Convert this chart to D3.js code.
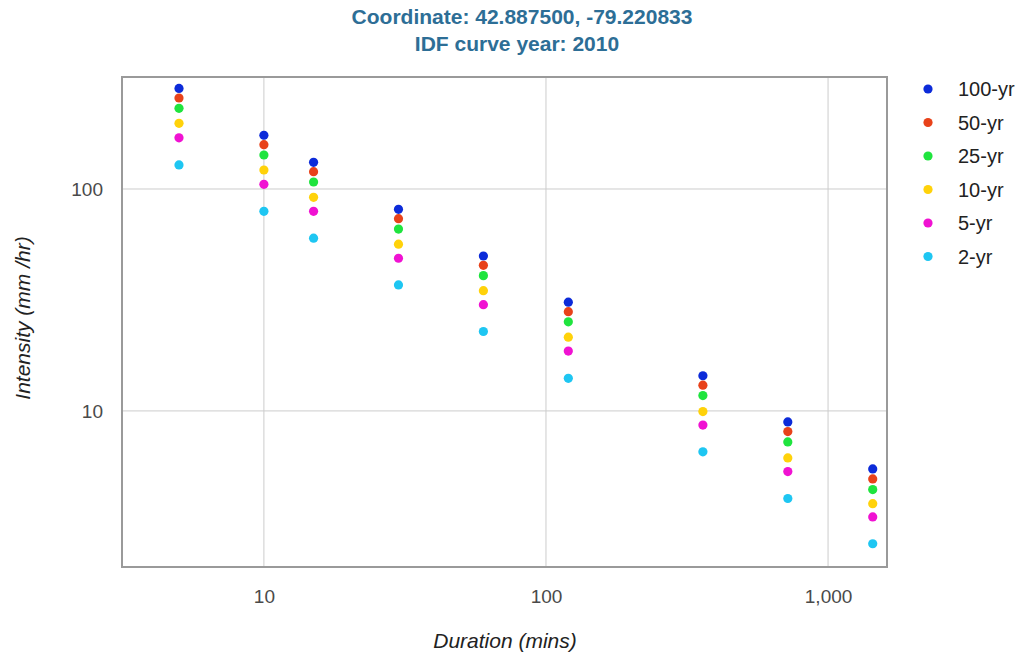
<!DOCTYPE html>
<html>
<head>
<meta charset="utf-8">
<script src="https://cdn.jsdelivr.net/npm/d3@7"></script>
<style>
  body { margin: 0; background: #fff; }
  text { font-family: "Liberation Sans", Arial, sans-serif; }
</style>
</head>
<body>
<div id="chart"></div>
<script>
// durations in minutes
const durations = [5, 10, 15, 30, 60, 120, 360, 720, 1440];

// return periods, legend order
const periods = ["100-yr", "50-yr", "25-yr", "10-yr", "5-yr", "2-yr"];
const colors = ["#0c2bd9", "#e8421a", "#1fe43e", "#ffd20a", "#f012d2", "#1ec6f2"];

// intensity (mm/hr) for each period
const yr100 = [284, 174.6, 131.9, 81.0, 49.9, 30.9, 14.4, 8.92, 5.48];
const yr50  = [257, 158.3, 119.7, 73.5, 45.3, 28.0, 13.06, 8.07, 4.94];
const yr25  = [231, 142.3, 107.5, 66.0, 40.7, 25.2, 11.72, 7.25, 4.42];
const yr10  = [197.6, 121.8, 91.7, 56.4, 34.8, 21.5, 9.93, 6.14, 3.82];
const yr5   = [170, 105, 79.3, 48.75, 30.1, 18.6, 8.63, 5.33, 3.33];
const yr2   = [128.3, 79.3, 60.0, 36.95, 22.8, 14.03, 6.54, 4.03, 2.52];

const seriesValues = [yr100, yr50, yr25, yr10, yr5, yr2];

const xTicks = [10, 100, 1000];
const yTicks = [10, 100];

const W = 1030, H = 654;
const margin = { top: 77, right: 143, bottom: 87, left: 122 };
const width = W - margin.left - margin.right,
      height = H - margin.top - margin.bottom;

const svg = d3.select("#chart").append("svg")
    .attr("width", W)
    .attr("height", H);

// Title
svg.append("text")
    .attr("x", 522).attr("y", 24)
    .attr("text-anchor", "middle")
    .attr("font-size", "21px").attr("font-weight", "bold")
    .attr("fill", "#2d6e96")
    .text("Coordinate: 42.887500, -79.220833");
svg.append("text")
    .attr("x", 517).attr("y", 51)
    .attr("text-anchor", "middle")
    .attr("font-size", "21px").attr("font-weight", "bold")
    .attr("fill", "#2d6e96")
    .text("IDF curve year: 2010");

const g = svg.append("g")
    .attr("transform", `translate(${margin.left},${margin.top})`);

const xScale = d3.scaleLog().domain([3.14, 1618]).range([0, width]);
const yScale = d3.scaleLog().domain([1.98, 319.6]).range([height, 0]);

// grid lines
g.append("g").selectAll("line")
    .data(xTicks).join("line")
    .attr("x1", d => xScale(d)).attr("x2", d => xScale(d))
    .attr("y1", 0).attr("y2", height)
    .attr("stroke", "#cccccc").attr("stroke-width", 1);

g.append("g").selectAll("line")
    .data(yTicks).join("line")
    .attr("x1", 0).attr("x2", width)
    .attr("y1", d => yScale(d)).attr("y2", d => yScale(d))
    .attr("stroke", "#cccccc").attr("stroke-width", 1);

// axes (labels only)
const xAxis = d3.axisBottom(xScale).tickValues(xTicks).tickFormat(d3.format(",")).tickSize(0).tickPadding(23);
const yAxis = d3.axisLeft(yScale).tickValues(yTicks).tickFormat(d3.format(",")).tickSize(0).tickPadding(19);

const gx = g.append("g").attr("transform", `translate(0,${height})`).call(xAxis);
const gy = g.append("g").call(yAxis);
[gx, gy].forEach(a => {
    a.select(".domain").remove();
    a.selectAll("text")
        .attr("font-family", "'Liberation Sans', Arial, sans-serif")
        .attr("font-size", "19px")
        .attr("fill", "#4a4a4a");
});

// frame
g.append("rect")
    .attr("x", 0).attr("y", 0)
    .attr("width", width).attr("height", height)
    .attr("fill", "none")
    .attr("stroke", "#9a9a9a").attr("stroke-width", 2);

// points
periods.forEach((p, i) => {
    g.append("g").selectAll("circle")
        .data(seriesValues[i].map((v, j) => ({ x: durations[j], y: v })))
        .join("circle")
        .attr("cx", d => xScale(d.x))
        .attr("cy", d => yScale(d.y))
        .attr("r", 4.6)
        .attr("fill", colors[i]);
});

// axis titles
svg.append("text")
    .attr("x", 505).attr("y", 648)
    .attr("text-anchor", "middle")
    .attr("font-size", "21px").attr("font-style", "italic")
    .attr("fill", "#222")
    .text("Duration (mins)");

svg.append("text")
    .attr("transform", `translate(30,318) rotate(-90)`)
    .attr("text-anchor", "middle")
    .attr("font-size", "21px").attr("font-style", "italic")
    .attr("fill", "#222")
    .text("Intensity (mm /hr)");

// legend
const legend = svg.append("g").attr("transform", "translate(928,89)");
const item = legend.selectAll("g")
    .data(periods).join("g")
    .attr("transform", (d, i) => `translate(0,${i * 33.5})`);
item.append("circle").attr("r", 4.6).attr("fill", (d, i) => colors[i]);
item.append("text")
    .attr("x", 30).attr("y", 7)
    .attr("font-size", "20px")
    .attr("fill", "#222")
    .text(d => d);
</script>
</body>
</html>
